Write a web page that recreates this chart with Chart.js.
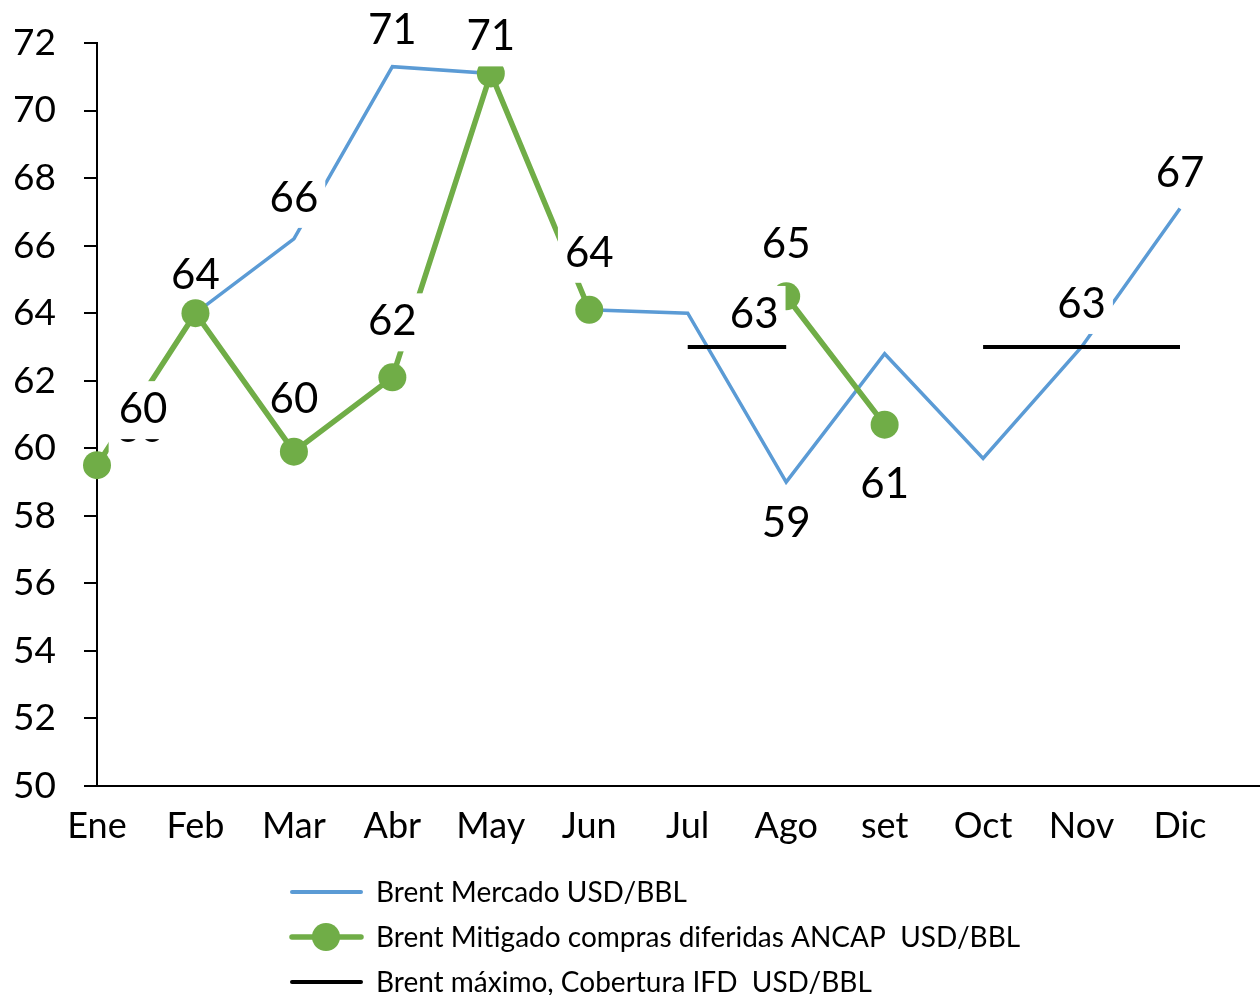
<!DOCTYPE html>
<html>
<head>
<meta charset="utf-8">
<script src="https://cdn.jsdelivr.net/npm/chart.js@4.4.0/dist/chart.umd.min.js"></script>
<style>
html, body { margin: 0; padding: 0; background: #fff; }
canvas { display: block; }
</style>
</head>
<body>
<canvas id="chart" width="1260" height="995"></canvas>
<script>
// Datos
const months = ['Ene', 'Feb', 'Mar', 'Abr', 'May', 'Jun', 'Jul', 'Ago', 'set', 'Oct', 'Nov', 'Dic'];
const brentMercado = [59.5, 64.0, 66.2, 71.3, 71.1, 64.1, 64.0, 59.0, 62.8, 59.7, 63.0, 67.1];
const brentMitigado = [59.5, 64.0, 59.9, 62.1, 71.1, 64.1, null, 64.5, 60.7, null, null, null];
const brentMaximo = [null, null, null, null, null, null, 63, 63, null, 63, 63, 63];
const seriesNames = [
    'Brent Mercado USD/BBL',
    'Brent Mitigado compras diferidas ANCAP  USD/BBL',
    'Brent máximo, Cobertura IFD  USD/BBL'
];
const yMin = 50;
const yMax = 72;
const yStep = 2;

// Posición de las etiquetas: [dx, dy, fondo blanco], null = sin etiqueta
const labelOffsets = [
    [[43, -38, true], null, [0, -42, true], [0, -38, true], null, null, null, [0, 40, true], null, null, null, [0, -36, true]],
    [[46, -57, true], [0, -39, false], [0, -54, false], [0, -57, true], [0, -38, true], [0, -58, true], null, [0, -53, true], [0, 58, true], null, null, null],
    [null, null, null, null, null, null, null, [-32, -34, true], null, null, [0, -44, true], null]
];

const FONT = 'Lato';

// Etiquetas de datos con fondo blanco
const dataLabels = {
    id: 'dataLabels',
    afterDatasetsDraw(chart) {
        const ctx = chart.ctx;
        ctx.save();
        ctx.font = `42px ${FONT}`;
        ctx.textAlign = 'center';
        ctx.textBaseline = 'alphabetic';
        chart.data.datasets.forEach((ds, i) => {
            const meta = chart.getDatasetMeta(i);
            labelOffsets[i].forEach((off, j) => {
                if (!off || ds.data[j] == null) return;
                const pt = meta.data[j];
                const x = pt.x + off[0];
                const y = pt.y + off[1];
                const text = String(Math.round(ds.data[j]));
                const w = ctx.measureText(text).width;
                if (off[2]) {
                    ctx.fillStyle = '#fff';
                    ctx.fillRect(x - w / 2 - 7, y - 27, w + 14, 58);
                }
                ctx.fillStyle = '#000';
                ctx.fillText(text, x, y + 15);
            });
        });
        ctx.restore();
    }
};

// Leyenda vertical y prolongación del eje X
const customLegend = {
    id: 'customLegend',
    afterDraw(chart) {
        const ctx = chart.ctx;
        const area = chart.chartArea;
        ctx.save();

        ctx.strokeStyle = '#000';
        ctx.lineWidth = 2;
        ctx.beginPath();
        ctx.moveTo(area.right, area.bottom);
        ctx.lineTo(chart.width, area.bottom);
        ctx.stroke();

        ctx.font = `28px ${FONT}`;
        ctx.textAlign = 'left';
        ctx.textBaseline = 'alphabetic';
        chart.data.datasets.forEach((ds, i) => {
            const y = 892 + i * 45;
            ctx.strokeStyle = ds.borderColor;
            ctx.lineWidth = ds.legendLineWidth;
            ctx.lineCap = 'round';
            ctx.beginPath();
            ctx.moveTo(292, y);
            ctx.lineTo(361, y);
            ctx.stroke();
            if (ds.pointRadius > 0) {
                ctx.fillStyle = ds.pointBackgroundColor;
                ctx.beginPath();
                ctx.arc(326, y, 14, 0, Math.PI * 2);
                ctx.fill();
            }
            ctx.fillStyle = '#000';
            ctx.fillText(ds.label, 376, y + 10);
        });
        ctx.restore();
    }
};

function drawChart() {
    new Chart(document.getElementById('chart'), {
        type: 'line',
        data: {
            labels: months,
            datasets: [
                {
                    label: seriesNames[0],
                    data: brentMercado,
                    borderColor: '#5B9BD5',
                    borderWidth: 3.5,
                    legendLineWidth: 4,
                    pointRadius: 0,
                    tension: 0,
                    order: 3
                },
                {
                    label: seriesNames[1],
                    data: brentMitigado,
                    borderColor: '#70AD47',
                    borderWidth: 5.5,
                    legendLineWidth: 5.5,
                    pointRadius: 14,
                    pointBorderWidth: 0,
                    pointBackgroundColor: '#70AD47',
                    pointHoverRadius: 14,
                    spanGaps: false,
                    tension: 0,
                    order: 2
                },
                {
                    label: seriesNames[2],
                    data: brentMaximo,
                    borderColor: '#000000',
                    borderWidth: 4,
                    legendLineWidth: 4,
                    pointRadius: 0,
                    spanGaps: false,
                    tension: 0,
                    order: 1
                }
            ]
        },
        options: {
            responsive: false,
            animation: false,
            devicePixelRatio: 1,
            layout: { padding: { top: 43, right: 80, left: 0, bottom: 0 } },
            plugins: {
                legend: { display: false },
                tooltip: { enabled: false }
            },
            scales: {
                x: {
                    offset: false,
                    grid: { display: false, drawTicks: false },
                    border: { display: true, color: '#000', width: 2 },
                    ticks: {
                        color: '#000',
                        font: { family: FONT, size: 36 },
                        padding: 19,
                        maxRotation: 0,
                        autoSkip: false
                    },
                    afterFit(scale) { scale.height = 209; }
                },
                y: {
                    min: yMin,
                    max: yMax,
                    grid: { display: true, drawOnChartArea: false, drawTicks: true, tickLength: 13, color: '#000', lineWidth: 2 },
                    border: { display: true, color: '#000', width: 2 },
                    ticks: {
                        stepSize: yStep,
                        color: '#000',
                        font: { family: FONT, size: 37 },
                        padding: 28
                    },
                    afterFit(scale) {
                        scale.width = 97;
                        scale.paddingTop = 0;
                        scale.paddingBottom = 0;
                    }
                }
            }
        },
        plugins: [dataLabels, customLegend]
    });
}

document.fonts.load(`42px ${FONT}`).then(drawChart, drawChart);
</script>
</body>
</html>
